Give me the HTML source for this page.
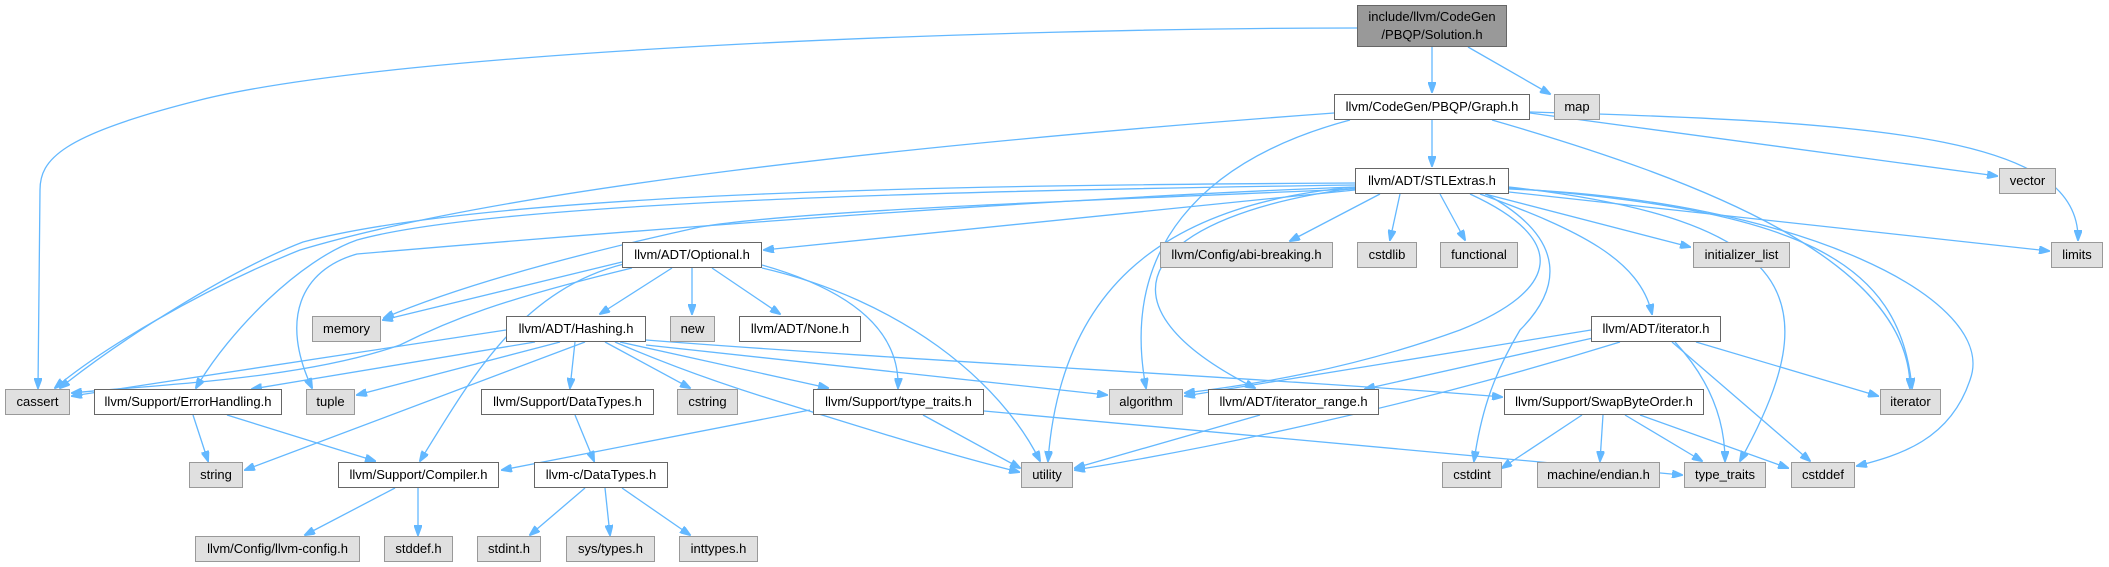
<!DOCTYPE html>
<html><head><meta charset="utf-8"><style>
body{margin:0;width:2109px;height:567px;background:#fff;position:relative;overflow:hidden;font-family:"Liberation Sans",Arial,sans-serif}
.n{position:absolute;height:26px;line-height:24px;box-sizing:border-box;border:1.5px solid #666;background:#fff;font-size:13px;text-align:center;white-space:nowrap;color:#000}
.g{background:#e0e0e0;border-color:#999}
svg{position:absolute;left:0;top:0}
path{fill:none;stroke:#63b8ff;stroke-width:1.3}
</style></head><body>
<svg width="2109" height="567">
<defs><marker id="a" markerWidth="11" markerHeight="8" refX="10" refY="4" orient="auto" markerUnits="userSpaceOnUse"><path d="M0,0 L11,4 L0,8 z" style="fill:#63b8ff;stroke:#63b8ff"/></marker></defs>
<g marker-end="url(#a)">
<path d="M1357,28 C1000,28 400,50 200,100 C60,135 40,160 40,190 L38,388"/>
<path d="M1432,47 L1432,92"/>
<path d="M1468,47 L1550,94"/>
<path d="M1334,113 C900,145 500,190 300,250 C200,290 100,350 55,388"/>
<path d="M1350,120 C1200,160 1120,250 1146,388"/>
<path d="M1492,120 C1700,180 1910,260 1910,388"/>
<path d="M1530,113 L1997,176"/>
<path d="M1530,112 C1900,122 2080,140 2078,240"/>
<path d="M1432,120 L1432,166"/>
<path d="M1355,190 L764,250"/>
<path d="M1380,194 L1290,241"/>
<path d="M1400,194 L1390,240"/>
<path d="M1440,194 L1465,240"/>
<path d="M1485,194 L1690,247"/>
<path d="M1480,194 C1580,230 1640,260 1652,314"/>
<path d="M1355,188 C1150,215 1080,300 1255,388"/>
<path d="M1355,187 C1150,205 1060,300 1048,461"/>
<path d="M1470,194 C1570,240 1560,290 1460,330 C1350,370 1250,385 1185,393"/>
<path d="M1486,194 C1570,240 1560,290 1520,330 C1490,380 1480,420 1474,461"/>
<path d="M1509,187 C1800,220 1830,300 1740,461"/>
<path d="M1509,188 C1800,210 1900,260 1912,388"/>
<path d="M1509,189 C1800,200 2000,300 1970,380 C1950,440 1900,455 1857,466"/>
<path d="M1509,192 L2049,251"/>
<path d="M1355,183 C1000,185 500,190 303,242 C230,270 120,340 60,388"/>
<path d="M1355,185 C1000,190 500,200 357,240 C300,260 230,330 196,388"/>
<path d="M1355,187 C1000,200 520,240 357,254 C300,270 280,320 312,388"/>
<path d="M1355,189 C1100,200 800,210 700,227 C550,260 450,290 384,318"/>
<path d="M622,262 L383,320"/>
<path d="M632,268 C500,300 450,320 400,345 C300,380 150,385 72,393"/>
<path d="M624,264 C520,290 470,380 420,461"/>
<path d="M672,268 L600,314"/>
<path d="M692,268 L692,314"/>
<path d="M712,268 L780,314"/>
<path d="M762,265 C850,290 900,330 898,388"/>
<path d="M762,268 C900,300 1000,380 1040,461"/>
<path d="M506,330 L72,396"/>
<path d="M535,342 L252,389"/>
<path d="M560,342 L357,395"/>
<path d="M585,342 L245,470"/>
<path d="M575,342 L570,388"/>
<path d="M605,342 L690,388"/>
<path d="M620,342 L828,388"/>
<path d="M646,345 L1107,395"/>
<path d="M615,342 C680,370 740,390 790,405 C870,430 950,455 1019,472"/>
<path d="M646,340 C900,360 1300,380 1502,397"/>
<path d="M193,415 L208,461"/>
<path d="M227,415 L375,461"/>
<path d="M575,415 L594,461"/>
<path d="M585,488 L530,535"/>
<path d="M605,488 L610,535"/>
<path d="M622,488 L690,535"/>
<path d="M395,488 L305,535"/>
<path d="M418,488 L418,535"/>
<path d="M810,410 L502,470"/>
<path d="M923,415 L1020,468"/>
<path d="M984,411 L1682,475"/>
<path d="M1591,330 L1185,396"/>
<path d="M1593,338 L1365,389"/>
<path d="M1620,342 C1400,410 1200,450 1075,470"/>
<path d="M1696,342 L1878,396"/>
<path d="M1675,342 C1710,380 1725,420 1725,461"/>
<path d="M1672,342 L1810,461"/>
<path d="M1260,415 L1075,468"/>
<path d="M1582,415 L1502,468"/>
<path d="M1603,415 L1600,461"/>
<path d="M1625,415 L1702,461"/>
<path d="M1640,415 L1788,468"/>
</g></svg>
<div class="n" style="left:1357px;top:5px;width:150px;height:42px;line-height:18px;padding-top:2px;background:#999;border-color:#666">include/llvm/CodeGen<br>/PBQP/Solution.h</div>
<div class="n" style="left:1334px;top:94px;width:196px">llvm/CodeGen/PBQP/Graph.h</div>
<div class="n g" style="left:1554px;top:94px;width:46px">map</div>
<div class="n" style="left:1355px;top:168px;width:154px">llvm/ADT/STLExtras.h</div>
<div class="n g" style="left:1999px;top:168px;width:57px">vector</div>
<div class="n" style="left:622px;top:242px;width:140px">llvm/ADT/Optional.h</div>
<div class="n g" style="left:1160px;top:242px;width:173px">llvm/Config/abi-breaking.h</div>
<div class="n g" style="left:1357px;top:242px;width:60px">cstdlib</div>
<div class="n g" style="left:1440px;top:242px;width:78px">functional</div>
<div class="n g" style="left:1693px;top:242px;width:97px">initializer_list</div>
<div class="n g" style="left:2051px;top:242px;width:52px">limits</div>
<div class="n g" style="left:312px;top:316px;width:69px">memory</div>
<div class="n" style="left:506px;top:316px;width:140px">llvm/ADT/Hashing.h</div>
<div class="n g" style="left:670px;top:316px;width:45px">new</div>
<div class="n" style="left:739px;top:316px;width:122px">llvm/ADT/None.h</div>
<div class="n" style="left:1591px;top:316px;width:130px">llvm/ADT/iterator.h</div>
<div class="n g" style="left:5px;top:389px;width:65px">cassert</div>
<div class="n" style="left:94px;top:389px;width:188px">llvm/Support/ErrorHandling.h</div>
<div class="n g" style="left:306px;top:389px;width:49px">tuple</div>
<div class="n" style="left:481px;top:389px;width:173px">llvm/Support/DataTypes.h</div>
<div class="n g" style="left:677px;top:389px;width:61px">cstring</div>
<div class="n" style="left:813px;top:389px;width:171px">llvm/Support/type_traits.h</div>
<div class="n g" style="left:1109px;top:389px;width:74px">algorithm</div>
<div class="n" style="left:1208px;top:389px;width:171px">llvm/ADT/iterator_range.h</div>
<div class="n" style="left:1504px;top:389px;width:200px">llvm/Support/SwapByteOrder.h</div>
<div class="n g" style="left:1880px;top:389px;width:61px">iterator</div>
<div class="n g" style="left:189px;top:462px;width:54px">string</div>
<div class="n" style="left:338px;top:462px;width:161px">llvm/Support/Compiler.h</div>
<div class="n" style="left:534px;top:462px;width:134px">llvm-c/DataTypes.h</div>
<div class="n g" style="left:1021px;top:462px;width:52px">utility</div>
<div class="n g" style="left:1442px;top:462px;width:60px">cstdint</div>
<div class="n g" style="left:1537px;top:462px;width:123px">machine/endian.h</div>
<div class="n g" style="left:1684px;top:462px;width:82px">type_traits</div>
<div class="n g" style="left:1791px;top:462px;width:64px">cstddef</div>
<div class="n g" style="left:195px;top:536px;width:165px">llvm/Config/llvm-config.h</div>
<div class="n g" style="left:384px;top:536px;width:69px">stddef.h</div>
<div class="n g" style="left:477px;top:536px;width:64px">stdint.h</div>
<div class="n g" style="left:566px;top:536px;width:89px">sys/types.h</div>
<div class="n g" style="left:679px;top:536px;width:79px">inttypes.h</div>
</body></html>
